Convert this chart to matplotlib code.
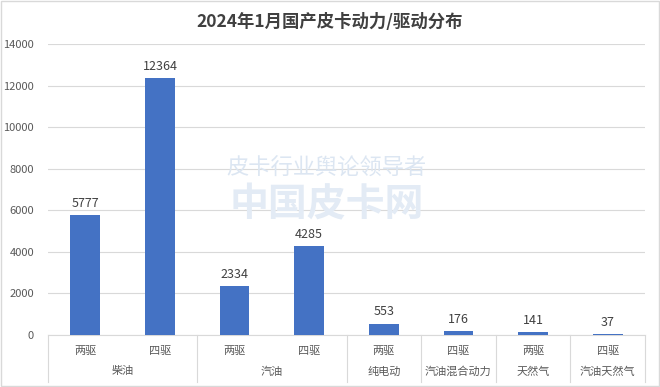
import matplotlib
matplotlib.use("Agg")
import matplotlib.pyplot as plt
from matplotlib.patches import Rectangle
import matplotlib.transforms as mtransforms

plt.rcParams['font.family'] = ['Noto Sans CJK SC', 'DejaVu Sans']

groups = ["柴油", "汽油", "纯电动", "汽油混合动力", "天然气", "汽油天然气"]
group_sizes = [2, 2, 1, 1, 1, 1]
drives = ["两驱", "四驱", "两驱", "四驱", "两驱", "四驱", "两驱", "四驱"]
values = [5777, 12364, 2334, 4285, 553, 176, 141, 37]
yticks = [0, 2000, 4000, 6000, 8000, 10000, 12000, 14000]
title = "2024年1月国产皮卡动力/驱动分布"

fig = plt.figure(figsize=(6.6, 3.87), dpi=100)
ax = fig.add_axes([48/660, 52/387, 597/660, 291/387])

x = list(range(len(values)))
ax.bar(x, values, width=0.4, color="#4472C4", zorder=3)
for xi, v in zip(x, values):
    ax.text(xi, v + 250, str(v), ha="center", va="bottom", fontsize=9, color="#404040", zorder=4)

ax.set_xlim(-0.5, len(values) - 0.5)
ax.set_ylim(0, 14000)
ax.set_yticks(yticks)
ax.set_yticklabels([str(t) for t in yticks], fontsize=8, color="#595959")
ax.tick_params(axis="y", length=0, pad=10)
ax.set_xticks([])
ax.yaxis.grid(True, color="#D9D9D9", linewidth=0.8, zorder=0)
for s in ["top", "right", "left"]:
    ax.spines[s].set_visible(False)
ax.spines["bottom"].set_color("#D9D9D9")

trans = mtransforms.blended_transform_factory(ax.transData, ax.transAxes)
for xi, d in zip(x, drives):
    ax.text(xi, -0.055, d, transform=trans, ha="center", va="center", fontsize=8, color="#595959")

# group labels and separators
start = 0
sep_bottom = -(382 - 335) / 291
ax.plot([-0.5, -0.5], [0, sep_bottom], transform=trans, color="#D9D9D9", lw=0.8, clip_on=False)
for g, n in zip(groups, group_sizes):
    center = start + (n - 1) / 2
    ax.text(center, -0.125, g, transform=trans, ha="center", va="center", fontsize=8, color="#595959")
    end = start + n - 0.5
    ax.plot([end, end], [0, sep_bottom], transform=trans, color="#D9D9D9", lw=0.8, clip_on=False)
    start += n

# watermark
fig.text(0.495, 0.565, "皮卡行业舆论领导者", ha="center", va="center", fontsize=16,
         color="#DCE6F2", style="italic", zorder=1)
fig.text(0.495, 0.47, "中国皮卡网", ha="center", va="center", fontsize=28,
         color="#E3EBF5", fontweight="bold", zorder=1)

fig.text(0.5, 0.943, title, ha="center", va="center", fontsize=12.5, fontweight="bold", color="#404040")

fig.patches.append(Rectangle((0.002, 0.003), 0.996, 0.994, transform=fig.transFigure,
                             fill=False, edgecolor="#D9D9D9", linewidth=1))

fig.savefig("out.png", dpi=100)
